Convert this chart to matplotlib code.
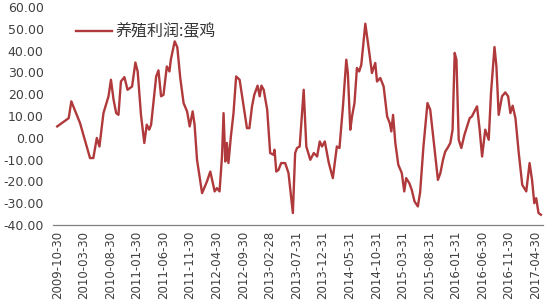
import matplotlib
matplotlib.use("Agg")
import matplotlib.pyplot as plt
import pandas as pd

plt.rcParams["font.family"] = ["DejaVu Sans", "Noto Sans CJK SC"]

# 养殖利润:蛋鸡 (元/羽)
dates = [
    "2009-10-30", "2010-01-04", "2010-01-19", "2010-03-10", "2010-05-06", "2010-05-25",
    "2010-06-14", "2010-06-29", "2010-07-22", "2010-08-20", "2010-09-03", "2010-09-18",
    "2010-10-03", "2010-10-16", "2010-10-30", "2010-11-19", "2010-12-07", "2011-01-02",
    "2011-01-21", "2011-02-03", "2011-02-22", "2011-03-13", "2011-03-27", "2011-04-10",
    "2011-04-21", "2011-05-20", "2011-06-02", "2011-06-17", "2011-07-01", "2011-07-20",
    "2011-08-04", "2011-08-12", "2011-09-03", "2011-09-18", "2011-10-05", "2011-10-24",
    "2011-11-13", "2011-11-28", "2011-12-15", "2011-12-26", "2012-01-09", "2012-02-07",
    "2012-03-06", "2012-03-25", "2012-04-19", "2012-05-02", "2012-05-17", "2012-05-31",
    "2012-06-09", "2012-06-19", "2012-06-28", "2012-07-07", "2012-07-21", "2012-08-05",
    "2012-08-20", "2012-09-09", "2012-10-02", "2012-10-21", "2012-11-04", "2012-11-19",
    "2012-12-02", "2012-12-21", "2013-01-02", "2013-01-12", "2013-01-25", "2013-02-14",
    "2013-03-03", "2013-03-22", "2013-03-28", "2013-04-07", "2013-04-20", "2013-05-05",
    "2013-05-28", "2013-06-16", "2013-07-11", "2013-07-24", "2013-08-04", "2013-08-19",
    "2013-09-11", "2013-09-26", "2013-10-19", "2013-11-08", "2013-11-27", "2013-12-12",
    "2013-12-25", "2014-01-10", "2014-02-02", "2014-02-25", "2014-03-20", "2014-04-04",
    "2014-04-24", "2014-05-13", "2014-05-22", "2014-06-05", "2014-06-15", "2014-06-29",
    "2014-07-13", "2014-07-26", "2014-08-07", "2014-08-30", "2014-09-09", "2014-09-22",
    "2014-10-07", "2014-10-26", "2014-11-05", "2014-11-24", "2014-12-13", "2015-01-02",
    "2015-01-17", "2015-01-26", "2015-02-05", "2015-02-18", "2015-03-07", "2015-03-27",
    "2015-04-10", "2015-04-21", "2015-05-09", "2015-05-23", "2015-06-08", "2015-06-27",
    "2015-07-10", "2015-07-29", "2015-08-21", "2015-09-06", "2015-09-25", "2015-10-20",
    "2015-11-03", "2015-11-18", "2015-12-01", "2015-12-14", "2015-12-30", "2016-01-12",
    "2016-01-24", "2016-02-03", "2016-02-16", "2016-03-02", "2016-03-20", "2016-04-04",
    "2016-04-19", "2016-05-02", "2016-05-11", "2016-05-31", "2016-06-15", "2016-06-29",
    "2016-07-17", "2016-08-06", "2016-08-19", "2016-09-08", "2016-09-19", "2016-10-02",
    "2016-10-21", "2016-11-09", "2016-11-25", "2016-12-08", "2016-12-21", "2017-01-06",
    "2017-01-25", "2017-02-14", "2017-03-09", "2017-03-28", "2017-04-11", "2017-04-24",
    "2017-05-05", "2017-05-18", "2017-06-01",
]
profit = [
    5.2, 9.0, 16.7, 6.7, -9.3, -9.3,
    -0.1, -4.0, 11.3, 19.0, 26.6, 17.4,
    11.3, 10.5, 25.8, 27.8, 22.0, 23.5,
    34.5, 30.4, 10.5, -2.4, 6.0, 3.7,
    6.0, 28.1, 30.9, 19.0, 19.7, 32.7,
    30.4, 35.8, 44.2, 41.5, 27.4, 15.9,
    12.1, 5.2, 12.1, 6.0, -10.1, -25.4,
    -20.0, -15.5, -24.6, -23.1, -24.6, -8.6,
    11.3, -10.9, -2.4, -11.6, 0.6, 11.3,
    28.1, 26.6, 14.4, 4.4, 4.4, 14.4,
    19.7, 23.9, 19.0, 23.9, 22.0, 12.8,
    -7.0, -7.8, -5.5, -15.5, -14.7, -11.6,
    -11.6, -16.2, -34.5, -7.0, -4.7, -4.0,
    22.0, -4.0, -10.1, -7.0, -8.6, -1.7,
    -4.0, -1.7, -11.6, -18.5, -4.0, -4.7,
    14.4, 35.8, 29.7, 3.7, 9.8, 15.9,
    32.0, 30.4, 33.5, 52.3, 46.5, 38.9,
    29.7, 34.3, 25.8, 27.4, 23.5, 9.8,
    6.7, 2.9, 10.5, -2.4, -12.4, -16.2,
    -24.6, -18.5, -20.8, -23.9, -29.2, -31.5,
    -25.0, -4.0, 15.9, 12.8, -0.9, -19.3,
    -16.2, -10.1, -6.3, -4.7, -2.4, 3.7,
    38.9, 35.8, -0.9, -4.7, 1.4, 5.2,
    9.0, 9.8, 11.3, 14.4, 3.7, -8.6,
    3.7, -0.9, 20.5, 41.6, 32.7, 10.5,
    19.0, 20.8, 19.0, 11.3, 14.7, 9.0,
    -7.0, -21.6, -24.6, -11.6, -19.3, -30.0,
    -27.7, -34.5, -35.3,
]
tick_labels = [
    "2009-10-30", "2010-03-30", "2010-08-30", "2011-01-30", "2011-06-30",
    "2011-11-30", "2012-04-30", "2012-09-30", "2013-02-28", "2013-07-31",
    "2013-12-31", "2014-05-31", "2014-10-31", "2015-03-31", "2015-08-31",
    "2016-01-31", "2016-06-30", "2016-11-30", "2017-04-30",
]
y_ticks = [-40, -30, -20, -10, 0, 10, 20, 30, 40, 50, 60]

x = pd.to_datetime(dates)
ticks = pd.to_datetime(tick_labels)

fig = plt.figure(figsize=(5.5, 3.0), dpi=100)
ax = fig.add_axes([0.097, 0.25, 0.89, 0.727])

ax.plot(x, profit, color="#b0393b", lw=1.7, label="养殖利润:蛋鸡")

ax.set_ylim(-40, 60)
ax.set_yticks(y_ticks)
ax.set_yticklabels([f"{v:.2f}" for v in y_ticks])
ax.set_xlim(pd.Timestamp("2009-10-08"), pd.Timestamp("2017-06-12"))
ax.set_xticks(ticks)
ax.set_xticklabels(tick_labels, rotation=90)

for side in ["top", "right", "left"]:
    ax.spines[side].set_visible(False)
ax.spines["bottom"].set_color("#808080")
ax.spines["bottom"].set_linewidth(0.9)
ax.tick_params(axis="y", length=0, pad=7, labelsize=9, labelcolor="#404040")
ax.tick_params(axis="x", length=0, pad=4, labelsize=8.5, labelcolor="#404040")

leg = ax.legend(loc="upper left", bbox_to_anchor=(0.03, 0.965), frameon=False,
                handlelength=2.6, handletextpad=0.2, borderaxespad=0.2)
for t in leg.get_texts():
    t.set_fontfamily(["Noto Sans CJK SC", "DejaVu Sans"])
    t.set_fontsize(11.5)
    t.set_color("#333333")

fig.savefig("out.png", dpi=100)
